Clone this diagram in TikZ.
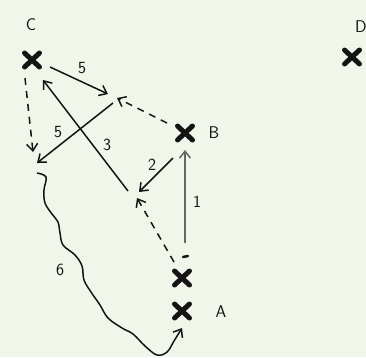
\documentclass[tikz,border=0pt]{standalone}
\usetikzlibrary{arrows.meta}
\definecolor{bgc}{RGB}{240,246,234}
\definecolor{ink}{RGB}{20,20,20}
\tikzset{
  crossmark/.pic={\draw[ink,line width=5pt,line cap=round] (-7.5,-7) -- (7.5,7) (-7.5,7) -- (7.5,-7);},
  arr/.style={ink,line width=1.5pt,-{Straight Barb[length=7pt,width=11pt]}},
  dsh/.style={dash pattern=on 7pt off 6pt},
  lbl/.style={font=\sffamily\fontsize{17}{19}\selectfont,text=ink,inner sep=0pt}
}
\begin{document}
\begin{tikzpicture}[x=1pt,y=-1pt]
\fill[bgc] (0,0) rectangle (366,357);
\useasboundingbox (0,0) rectangle (366,357);
% points
\coordinate (C) at (32,60);
\coordinate (D) at (352,57);
\coordinate (B) at (185,133);
\coordinate (Aup) at (182,278);
\coordinate (A) at (182,311);
\pic at (C) {crossmark};
\pic at (D) {crossmark};
\pic at (B) {crossmark};
\pic at (Aup) {crossmark};
\pic at (A) {crossmark};
\node[lbl] (lC) at (31,25) {C};
\node[lbl] (lD) at (361,27) {D};
\node[lbl] (lB) at (214,133) {B};
\node[lbl] (lA) at (221,312) {A};
% connector end points
\coordinate (p5a) at (50,67);
\coordinate (p5b) at (108,94);
\coordinate (pBd) at (167,123);
\coordinate (pBe) at (117,98);
\coordinate (q5a) at (113,103);
\coordinate (q5b) at (37,163);
\coordinate (cd1) at (25,78);
\coordinate (cd2) at (33,152);
\coordinate (t3a) at (128,191);
\coordinate (t3b) at (43,80);
\coordinate (t2a) at (173,158);
\coordinate (t2b) at (139,192);
\coordinate (t1a) at (185,243);
\coordinate (t1b) at (185,150);
\coordinate (ad1) at (174,262);
\coordinate (ad2) at (137,198);
\coordinate (w0) at (37,173);
\coordinate (wA) at (182,328);
% arrows
\draw[arr] (p5a) -- (p5b);
\draw[arr,dsh] (pBd) -- (pBe);
\draw[arr] (q5a) -- (q5b);
\draw[arr,dsh] (cd1) -- (cd2);
\draw[arr] (t3a) -- (t3b);
\draw[arr] (t2a) -- (t2b);
\draw[arr,draw=gray!80!black] (t1a) -- (t1b);
\draw[arr,dsh] (ad1) -- (ad2);
\draw[ink,line width=2.5pt,line cap=round] (183,257) -- (188,256);
\draw[arr] plot[smooth,tension=0.6] coordinates {(w0) (46,177) (44,190) (45,203) (52,214) (58,222) (60,233) (63,245) (75,255) (82,266) (84,280) (91,292) (100,305) (108,318) (122,328) (133,334) (145,346) (157,355) (167,352) (174,341) (wA)};
% labels
\node[lbl] (n5a) at (82,68) {5};
\node[lbl] (n5b) at (58,132) {5};
\node[lbl] (n3) at (107,145) {3};
\node[lbl] (n2) at (152,165) {2};
\node[lbl] (n1) at (197,202) {1};
\node[lbl] (n6) at (60,270) {6};
\end{tikzpicture}
\end{document}
